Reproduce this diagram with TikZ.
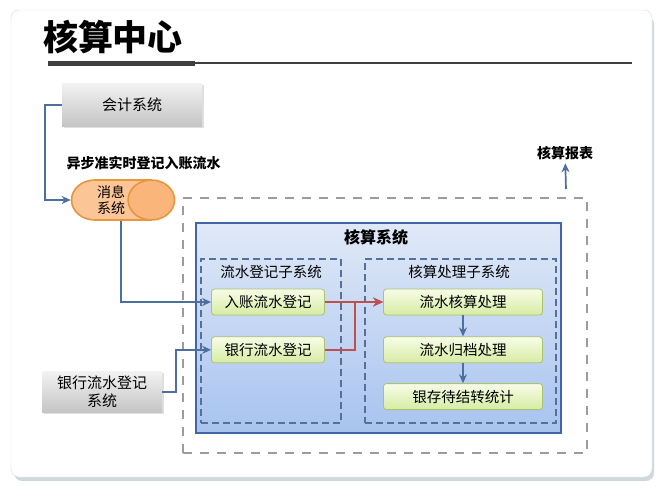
\documentclass[tikz,border=0pt]{standalone}
\usepackage{fontspec}
\setmainfont{Noto Sans CJK SC}
\usetikzlibrary{arrows.meta,positioning,shapes.geometric,shadows}
\definecolor{cardline}{HTML}{D5DDE0}
\definecolor{cardshadow}{HTML}{AFC0C4}
\definecolor{titledark}{HTML}{3F3F3F}
\definecolor{grayhi}{HTML}{F2F2F2}
\definecolor{graylo}{HTML}{C4C4C4}
\definecolor{bluehi}{HTML}{E0E9F7}
\definecolor{bluelo}{HTML}{A8C3EF}
\definecolor{blueline}{HTML}{4166A8}
\definecolor{subline}{HTML}{56709A}
\definecolor{greenhi}{HTML}{F8FCE8}
\definecolor{greenlo}{HTML}{D6ECA2}
\definecolor{greenline}{HTML}{A9C46C}
\definecolor{orangefill}{HTML}{FBC596}
\definecolor{orangeend}{HTML}{F9B57A}
\definecolor{orangeline}{HTML}{E8963E}
\definecolor{linkblue}{HTML}{4E6E9E}
\definecolor{linkred}{HTML}{C0504D}
\definecolor{zonegray}{HTML}{9C9C9C}

\begin{document}
\begin{tikzpicture}[x=1pt, y=-1pt,
  extsys/.style={inner sep=0pt, align=center, font=\fontsize{15}{18}\selectfont, top color=grayhi, bottom color=graylo, drop shadow={opacity=0.25, shadow xshift=1.5pt, shadow yshift=-1.5pt}},
  stepbox/.style={draw=greenline, line width=0.8pt, rounded corners=3pt, inner sep=0pt, minimum height=26, font=\fontsize{14.5}{17}\selectfont, top color=greenhi, bottom color=greenlo},
  subsys/.style={draw=subline, dashed, dash pattern=on 7pt off 4pt, line width=1.3pt, inner sep=0pt, minimum width=140, minimum height=164},
  caption/.style={font=\fontsize{14.5}{17}\selectfont},
  boldcap/.style={font=\fontsize{14}{17}\selectfont\bfseries},
  link/.style={-{Stealth[length=9pt, width=8pt]}, line width=1.7pt, linkblue},
  redlink/.style={-{Stealth[length=10pt, width=9pt]}, line width=2.2pt, linkred}
]
  \useasboundingbox (0,0) rectangle (665,488);
  \fill[cardshadow, opacity=0.6, rounded corners=8pt] (14,16) rectangle (654,481);
  \filldraw[fill=white, draw=cardline, rounded corners=8pt] (11,10) rectangle (652,477);

  \node[font=\fontsize{35}{38}\selectfont\bfseries] (title) at (113,37) {核算中心};
  \draw[line width=5pt, titledark] (48,63) -- (195,63);
  \draw[line width=1.3pt, titledark] (195,63) -- (632,63);

  \node[extsys, minimum width=140, minimum height=43] (acct) at (132,105) {会计系统};
  \node[boldcap, anchor=west] (asynclbl) at (63,163) {异步准实时登记入账流水};
  \node[cylinder, shape aspect=1.6, draw=orangeline, line width=1.6pt, cylinder uses custom fill, cylinder body fill=orangefill, cylinder end fill=orangeend, minimum width=40, minimum height=103, inner sep=0pt, align=center, font=\fontsize{14}{16}\selectfont] (mq) at (111,200) {消息\\系统};
  \node[extsys, minimum width=120, minimum height=41] (bankext) at (102,392) {银行流水登记\\系统};

  \node[draw=zonegray, dashed, dash pattern=on 9pt off 8pt, line width=2.2pt, minimum width=404, minimum height=255, inner sep=0pt] (zone) at (385,325.5) {};
  \node[boldcap] (report) at (565,153) {核算报表};
  \coordinate (reportfoot) at (566,189);

  \node[draw=blueline, line width=1.8pt, top color=bluehi, bottom color=bluelo, minimum width=365, minimum height=210, inner sep=0pt] (acctsys) at (378.5,328) {};
  \node[font=\fontsize{16}{19}\selectfont\bfseries] (acctsyslbl) at (376,237) {核算系统};

  \node[subsys] (regsub) at (271,341) {};
  \node[caption] (regsublbl) at (271,272) {流水登记子系统};
  \node[subsys, minimum width=191] (procsub) at (460.5,341) {};
  \node[caption] (procsublbl) at (459,272) {核算处理子系统};

  \node[stepbox, minimum width=113] (inreg) at (268,302) {入账流水登记};
  \node[stepbox, minimum width=113, below=21pt of inreg] (bankreg) {银行流水登记};
  \node[stepbox, minimum width=159] (calc) at (463,302) {流水核算处理};
  \node[stepbox, minimum width=159, below=21pt of calc] (arch) {流水归档处理};
  \node[stepbox, minimum width=159, below=20pt of arch] (stat) {银存待结转统计};

  \draw[link] (acct.west) -- ++(-17,0) |- (mq.west);
  \draw[link] ([xshift=10pt]mq.south) |- (inreg.west);
  \draw[link] (bankext.east) -- ++(14,0) |- (bankreg.west);
  \draw[redlink] (inreg.east) -- (calc.west);
  \draw[redlink] (bankreg.east) -- ++(30,0) |- (calc.west);
  \draw[link] (calc) -- (arch);
  \draw[link] (arch) -- (stat);
  \draw[link] (reportfoot) -- (report);
\end{tikzpicture}
\end{document}
